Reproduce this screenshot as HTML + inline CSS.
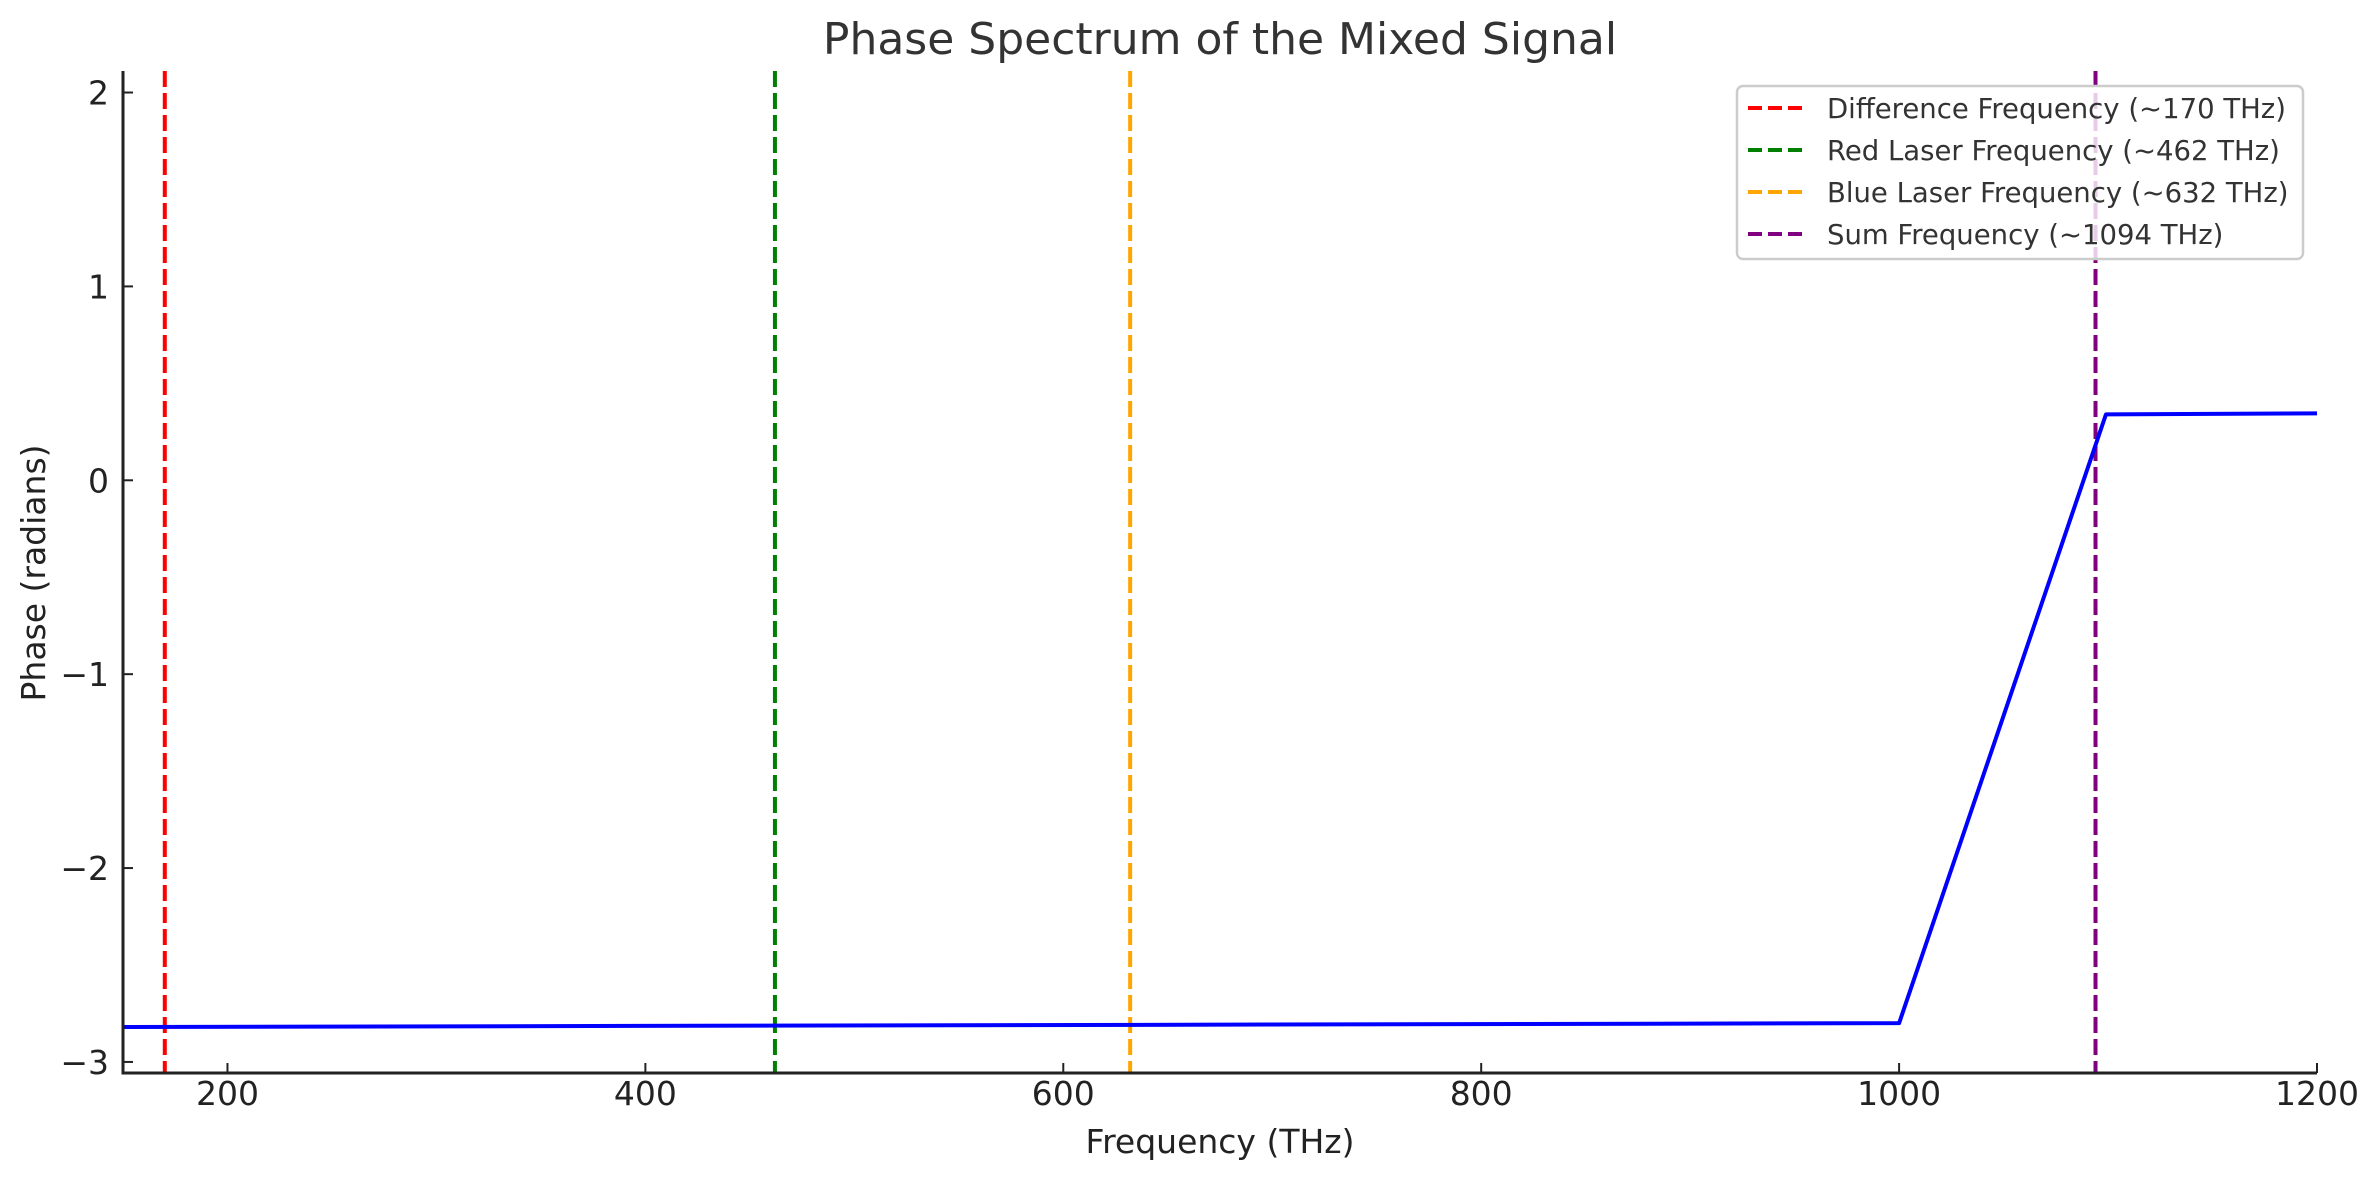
<!DOCTYPE html>
<html><head><meta charset="utf-8"><style>
body{margin:0;background:#fff;}
svg text{font-family:"DejaVu Sans","Liberation Sans",sans-serif;}
</style></head><body>
<svg id="chart" width="2379" height="1180" viewBox="0 0 2379 1180" xmlns="http://www.w3.org/2000/svg">
<rect width="2379" height="1180" fill="#fff"/>
<text x="1220" y="54" font-size="44" text-anchor="middle" fill="#333">Phase Spectrum of the Mixed Signal</text>
<text x="1220" y="1153" font-size="33" text-anchor="middle" fill="#222">Frequency (THz)</text>
<text transform="translate(45,573) rotate(-90)" font-size="33" text-anchor="middle" fill="#222">Phase (radians)</text>
<g id="plot"></g>
</svg>
<script>
const xTicks=[200,400,600,800,1000,1200];
const yTicks=[-3,-2,-1,0,1,2];
const phaseFreq=[150,1000,1099,1200];
const phaseVal=[-2.82,-2.80,0.34,0.345];
const markerFreq=[170,462,632,1094];
const markerLabels=["Difference Frequency (~170 THz)","Red Laser Frequency (~462 THz)","Blue Laser Frequency (~632 THz)","Sum Frequency (~1094 THz)"];
const markerColors=["red","green","orange","purple"];
const X0=123,X1=2317,Y0=1073,Y1=71;
const xmin=150,xmax=1200,ymin=-3.057,ymax=2.111;
const sx=v=>X0+(v-xmin)/(xmax-xmin)*(X1-X0);
const sy=v=>Y0-(v-ymin)/(ymax-ymin)*(Y0-Y1);
const NS="http://www.w3.org/2000/svg";
const g=document.getElementById('plot');
function mk(t,a){const e=document.createElementNS(NS,t);for(const k in a)e.setAttribute(k,a[k]);g.appendChild(e);return e;}
markerFreq.forEach((f,i)=>{
 const l=mk('line',{x1:sx(f),x2:sx(f),y1:Y1,y2:Y0,stroke:markerColors[i],'stroke-width':4,'stroke-dasharray':'16,6'});
 
 
});
const pl=mk('polyline',{points:phaseFreq.map((f,i)=>sx(f)+','+sy(phaseVal[i])).join(' '),fill:'none',stroke:'#0000ff','stroke-width':4,'stroke-linejoin':'round'});


const ax=mk('path',{d:`M${X0},${Y1}V${Y0}H${X1}`,fill:'none',stroke:'#222','stroke-width':3});


xTicks.forEach(t=>{
 mk('line',{x1:sx(t),x2:sx(t),y1:Y0,y2:Y0-10,stroke:'#222','stroke-width':2});
 const tx=mk('text',{x:sx(t),y:Y0+32,'font-size':33,'text-anchor':'middle',fill:'#222'});
 tx.textContent=t;
 
 
});
yTicks.forEach(t=>{
 mk('line',{x1:X0,x2:X0+10,y1:sy(t),y2:sy(t),stroke:'#222','stroke-width':2});
 const tx=mk('text',{x:X0-14,y:sy(t)+12,'font-size':33,'text-anchor':'end',fill:'#222'});
 tx.textContent=t<0?'\u2212'+(-t):t;
 
 
});
const lb=mk('rect',{x:1737,y:86,width:566,height:173,rx:6,fill:'#fff','fill-opacity':0.8,stroke:'#ccc','stroke-width':2.5});


markerLabels.forEach((s,i)=>{
 const y=108+i*42;
 mk('line',{x1:1748,x2:1804,y1:y,y2:y,stroke:markerColors[i],'stroke-width':4,'stroke-dasharray':'14,6'});
 const tx=mk('text',{x:1827,y:y+10,'font-size':27.5,fill:'#333'});
 tx.textContent=s;
 
 
});
</script>
</body></html>
